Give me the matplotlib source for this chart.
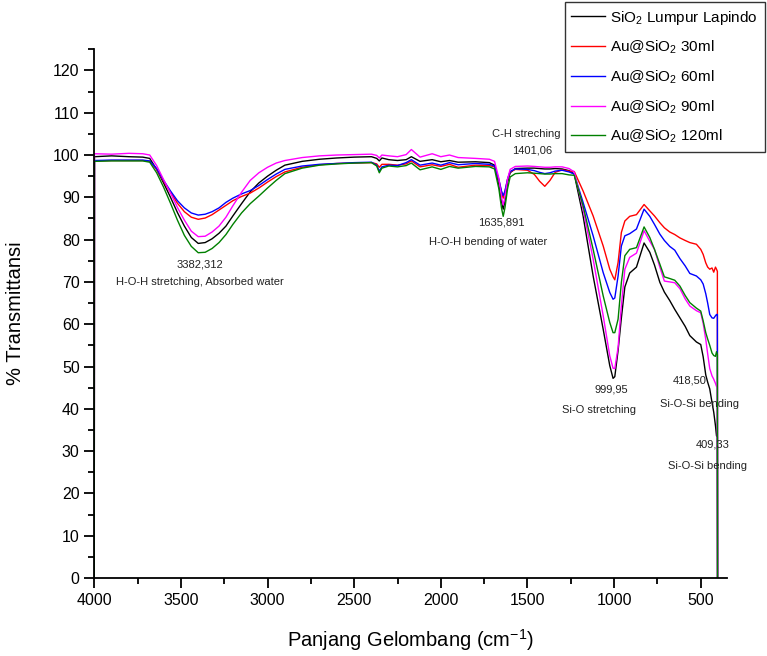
"""
FTIR spectra of SiO2 from Lapindo mud and Au@SiO2 samples
"""

import matplotlib
matplotlib.use('Agg')
import matplotlib.pyplot as plt
from matplotlib.ticker import MultipleLocator

plt.rcParams['font.family'] = ['Liberation Sans', 'DejaVu Sans']
plt.rcParams['mathtext.fontset'] = 'custom'
plt.rcParams['mathtext.rm'] = 'Liberation Sans'

# wavenumber grid (cm^-1), shared by all spectra
wavenumber = [
    4000, 3999, 3900, 3800, 3720, 3680, 3640, 3600, 3560, 3520, 3480, 3440,
    3400, 3360, 3320, 3280, 3240, 3200, 3150, 3100, 3050, 3000, 2950, 2900,
    2800, 2700, 2600, 2500, 2400,
    2370, 2355, 2340, 2300,
    2250, 2200, 2170, 2120, 2050, 2000, 1950, 1900, 1800, 1720,
    1690, 1665, 1650, 1640, 1630, 1615, 1600, 1570,
    1500, 1460, 1430, 1400, 1370, 1340, 1300, 1260,
    1230, 1179, 1121, 1063, 1025, 1006, 996, 977, 958, 938, 910, 871, 827,
    794, 767, 736, 710, 679, 650, 620, 590, 563, 525, 500, 486, 471, 460,
    448, 435, 425, 415, 409, 404, 403,
]

# % transmittance
sio2_lapindo = [
    0, 99.6, 99.8, 99.6, 99.5, 99.2, 96.6, 93.4, 90.0, 86.4, 83.2, 80.5,
    79.1, 79.3, 80.2, 81.5, 83.2, 85.6, 88.5, 91.3, 93.4, 95.0, 96.4, 97.6,
    98.5, 99.0, 99.3, 99.5, 99.6,
    99.2, 98.6, 99.3, 98.9,
    98.7, 98.9, 99.6, 98.5, 98.9, 98.4, 98.7, 98.3, 98.4, 98.2,
    97.6, 93.0, 89.0, 87.2, 89.0, 93.5, 95.8, 96.8,
    96.9, 96.9, 96.8, 96.7, 96.7, 96.8, 96.7, 96.3,
    95.5, 85.6, 71.4, 58.8, 50.2, 47.2, 47.6, 53.8, 61.5, 68.8, 72.1, 73.5, 79.2,
    77.0, 74.0, 69.9, 67.6, 65.6, 63.5, 61.5, 59.5, 57.3, 55.8, 55.2, 52.3, 48.0, 46.3,
    44.7, 41.5, 39.2, 36.0, 33.6, 33.4, 0,
]

au_30ml = [
    0, 98.6, 98.7, 98.7, 98.7, 98.5, 96.6, 93.8, 91.2, 88.6, 86.6, 85.3,
    84.8, 85.1, 85.9, 87.0, 88.1, 89.2, 90.2, 91.0, 92.2, 93.6, 94.9, 96.0,
    97.1, 97.7, 98.0, 98.1, 98.2,
    97.9, 97.1, 97.8, 97.8,
    97.6, 97.9, 98.6, 97.2, 97.7, 97.3, 97.8, 97.1, 97.6, 97.5,
    97.2, 94.0, 91.3, 89.8, 91.3, 94.2, 96.0, 96.6,
    96.4, 95.4, 93.8, 92.6, 94.0, 95.9, 96.5, 96.2,
    96.1, 91.5, 85.6, 78.5, 73.0, 71.2, 70.5, 74.6, 81.7, 84.4, 85.5, 85.9, 88.3,
    86.8, 85.6, 84.0, 82.8, 81.8, 81.2, 80.4, 79.8, 79.3, 78.9, 77.7, 76.5, 74.5, 73.5,
    73.0, 73.3, 72.3, 73.5, 73.0, 72.5, 0,
]

au_60ml = [
    0, 98.7, 98.8, 98.8, 98.8, 98.6, 96.8, 94.0, 91.5, 89.2, 87.5, 86.3,
    85.8, 86.0, 86.6, 87.5, 88.8, 89.8, 90.8, 91.6, 92.8, 94.2, 95.5, 96.6,
    97.4, 97.8, 98.0, 98.2, 98.3,
    97.6, 96.2, 97.2, 97.6,
    97.5, 98.2, 98.9, 97.6, 98.1, 97.6, 98.2, 97.7, 98.0, 97.8,
    97.4, 94.2, 91.5, 90.4, 91.5, 94.3, 96.1, 96.7,
    96.6, 96.3, 95.9, 95.6, 95.8, 96.2, 96.4, 96.0,
    95.5, 88.8, 80.9, 72.2, 67.5, 65.9, 66.2, 71.4, 78.5, 80.9, 81.4, 82.5, 87.2,
    85.5, 83.6, 81.3, 79.8, 78.4, 77.5, 75.5, 73.8, 72.0, 71.4, 70.5, 69.5, 67.2, 65.0,
    62.3, 61.5, 61.4, 62.0, 62.3, 62.3, 0,
]

au_90ml = [
    0, 100.3, 100.2, 100.4, 100.3, 100.0, 97.5, 94.2, 91.0, 87.6, 84.6, 82.0,
    80.7, 80.8, 81.8, 83.2, 85.3, 88.0, 91.2, 94.0, 95.8, 97.1, 98.1, 98.7,
    99.4, 99.8, 100.0, 100.1, 100.2,
    99.9, 99.3, 100.0, 99.8,
    99.6, 100.1, 101.3, 99.5, 100.3, 99.6, 100.0, 99.4, 99.2, 99.0,
    98.5, 94.5, 90.0, 88.2, 90.0, 94.3, 96.6, 97.3,
    97.4, 97.3, 97.2, 97.1, 97.1, 97.2, 97.2, 96.8,
    96.0, 87.2, 75.4, 62.0, 52.5, 49.6, 49.5, 54.5, 64.4, 73.0, 75.8, 76.8, 82.1,
    79.6, 77.7, 73.5, 70.2, 70.0, 69.8, 68.4, 66.0, 64.3, 63.2, 62.7, 60.2, 56.4, 53.0,
    49.5, 47.8, 47.0, 46.0, 45.3, 45.2, 0,
]

au_120ml = [
    0, 98.5, 98.6, 98.6, 98.6, 98.3, 95.8, 92.4, 88.6, 84.6, 81.0, 78.4,
    76.9, 77.0, 77.9, 79.3, 81.2, 83.6, 86.3, 88.5, 90.3, 92.2, 94.0, 95.6,
    96.9, 97.6, 97.9, 98.1, 98.2,
    97.4, 95.8, 96.9, 97.4,
    97.2, 97.5, 98.1, 96.5, 97.2, 96.6, 97.3, 96.9, 97.3, 97.2,
    96.7, 92.0, 87.5, 85.5, 87.5, 92.0, 94.8, 95.6,
    95.8, 95.7, 95.6, 95.5, 95.5, 95.6, 95.6, 95.3,
    95.2, 88.0, 77.7, 66.7, 60.4, 58.0, 58.0, 61.2, 69.9, 76.2, 77.7, 78.1, 83.0,
    80.5, 77.7, 74.2, 71.2, 70.8, 70.4, 69.0, 66.8, 65.1, 63.8, 63.1, 60.8, 58.0, 56.5,
    55.0, 53.2, 52.6, 52.4, 53.5, 52.8, 0,
]

labels = [
    'SiO$_\\mathregular{2}$ Lumpur Lapindo',
    'Au@SiO$_\\mathregular{2}$ 30ml',
    'Au@SiO$_\\mathregular{2}$ 60ml',
    'Au@SiO$_\\mathregular{2}$ 90ml',
    'Au@SiO$_\\mathregular{2}$ 120ml',
]
colors = ['black', 'red', 'blue', 'magenta', 'green']

# peak annotations: (text, wavenumber, transmittance)
annotations = [
    ('3382,312', 3390, 74.2),
    ('H-O-H stretching, Absorbed water', 3390, 69.9),
    ('C-H streching', 1509, 105.0),
    ('1401,06', 1475, 101.0),
    ('1635,891', 1648, 84.1),
    ('H-O-H bending of water', 1729, 79.4),
    ('999,95', 1014, 44.5),
    ('Si-O stretching', 1089, 39.6),
    ('418,50', 564, 46.7),
    ('Si-O-Si bending', 507, 41.2),
    ('409,33', 432, 31.5),
    ('Si-O-Si bending', 461, 26.5),
]


def main():
    fig = plt.figure(figsize=(7.67, 6.56), dpi=100)
    ax = fig.add_axes([0.1229, 0.1189, 0.8246, 0.806])

    series = [sio2_lapindo, au_30ml, au_60ml, au_90ml, au_120ml]
    handles = []
    for values, label, color in zip(series, labels, colors):
        line, = ax.plot(wavenumber, values, color=color, linewidth=1.0, label=label)
        handles.append(line)

    for text, x, y in annotations:
        ax.text(x, y, text, fontsize=8, color='#222222', ha='center', va='center')

    ax.set_xlim(4000, 350)
    ax.set_ylim(0, 125)
    ax.xaxis.set_major_locator(MultipleLocator(500))
    ax.xaxis.set_minor_locator(MultipleLocator(250))
    ax.yaxis.set_major_locator(MultipleLocator(10))
    ax.yaxis.set_minor_locator(MultipleLocator(5))

    for side in ['top', 'right']:
        ax.spines[side].set_visible(False)
    for side in ['left', 'bottom']:
        ax.spines[side].set_linewidth(1.3)

    ax.tick_params(which='major', direction='out', length=7, width=1.3, labelsize=11.5)
    ax.tick_params(which='minor', direction='out', length=4, width=1.3)

    ax.set_xlabel('Panjang Gelombang (cm$^{\\mathregular{-1}}$)', fontsize=14.5, labelpad=14)
    ax.set_ylabel('% Transmittansi', fontsize=14.5, labelpad=20)

    leg = fig.legend(handles=handles, loc='upper left',
                     bbox_to_anchor=(0.736, 0.997), fontsize=11,
                     frameon=True, fancybox=False, handlelength=2.2,
                     handletextpad=0.35, labelspacing=0.78, borderpad=0.45,
                     borderaxespad=0)
    leg.get_frame().set_edgecolor('black')
    leg.get_frame().set_linewidth(1.0)

    plt.savefig('out.png', dpi=100)
    plt.close()


if __name__ == '__main__':
    main()
